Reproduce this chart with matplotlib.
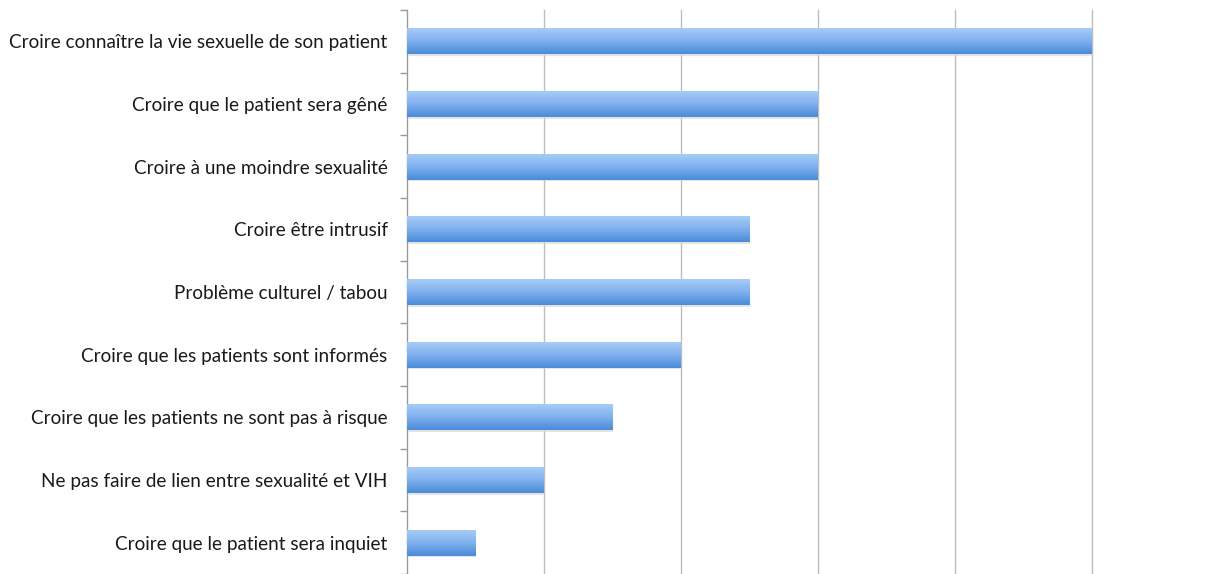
import numpy as np
import matplotlib
matplotlib.use('Agg')
import matplotlib.pyplot as plt
from matplotlib.colors import LinearSegmentedColormap

categories = [
    "Croire connaître la vie sexuelle de son patient",
    "Croire que le patient sera gêné",
    "Croire à une moindre sexualité",
    "Croire être intrusif",
    "Problème culturel / tabou",
    "Croire que les patients sont informés",
    "Croire que les patients ne sont pas à risque",
    "Ne pas faire de lien entre sexualité et VIH",
    "Croire que le patient sera inquiet",
]
values = [10, 6, 6, 5, 5, 4, 3, 2, 1]

plt.rcParams['font.family'] = ['Lato', 'DejaVu Sans']

fig = plt.figure(figsize=(12.25, 5.74), dpi=100)
ax = fig.add_axes([407 / 1225, 0, (1092 - 407) / 1225, 1 - 10 / 574])

n = len(categories)
ypos = np.arange(n)[::-1]  # first category on top
h = 0.41

# gradient fill of the bars (light top -> darker bottom)
cmap = LinearSegmentedColormap.from_list('bar', ['#a6cbf7', '#7fb0ee', '#4a8bd8'])
grad = np.linspace(0, 1, 64).reshape(-1, 1)
for y, v in zip(ypos, values):
    # soft shadow under the bar
    ax.barh(y - 0.03, v, height=h, color='#d9d9d9', alpha=0.7, zorder=2, linewidth=0)
    ax.imshow(grad, cmap=cmap, aspect='auto', zorder=3,
              extent=[0, v, y - h / 2, y + h / 2], origin='upper', interpolation='bilinear')

ax.set_xlim(0, 10)
ax.set_ylim(-0.5, n - 0.5)

ax.set_xticks([0, 2, 4, 6, 8, 10])
ax.xaxis.grid(True, color='#bdbdbd', linewidth=1)
for gl in ax.get_xgridlines():
    gl.set_clip_on(False)
ax.set_axisbelow(True)
ax.tick_params(axis='x', length=0, labelbottom=False)

# category boundaries as ticks, labels at bar centers
ax.set_yticks(np.arange(-0.5, n, 1.0))
ax.set_yticklabels([])
ax.tick_params(axis='y', which='major', length=5, color='#999999', width=1)
ax.set_yticks(ypos, minor=True)
ax.set_yticklabels(categories, minor=True, fontsize=13.6, color='#1a1a1a')
ax.tick_params(axis='y', which='minor', length=0, pad=14)

for s in ['top', 'right', 'bottom']:
    ax.spines[s].set_visible(False)
ax.spines['left'].set_color('#999999')

fig.savefig('out.png', dpi=100)
